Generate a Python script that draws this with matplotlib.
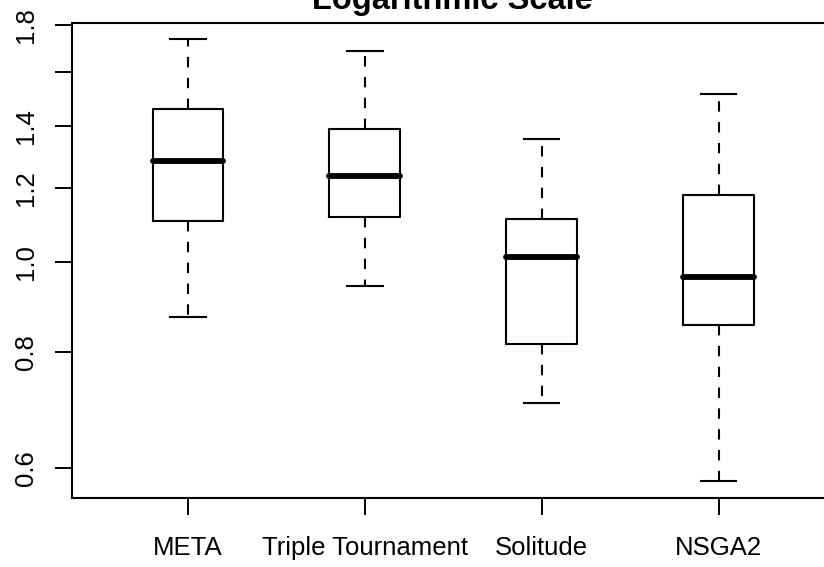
import matplotlib
matplotlib.use("Agg")
import matplotlib.pyplot as plt
from matplotlib.ticker import FixedLocator, FixedFormatter, NullLocator

categories = ["META", "Triple Tournament", "Solitude", "NSGA2"]
whisker_low = [0.873, 0.941, 0.705, 0.581]
q1 = [1.107, 1.117, 0.815, 0.856]
median = [1.284, 1.238, 1.011, 0.962]
q3 = [1.460, 1.391, 1.112, 1.181]
whisker_high = [1.739, 1.688, 1.355, 1.515]

ytick_values = [0.6, 0.8, 1.0, 1.2, 1.4, 1.6, 1.8]
ytick_labels = ["0.6", "0.8", "1.0", "1.2", "1.4", "", "1.8"]
title = "Logarithmic Scale"

plt.rcParams['font.family'] = ['Liberation Sans', 'DejaVu Sans']

W, H = 824, 567
fig = plt.figure(figsize=(W / 100, H / 100), dpi=100)
left, right, top, bottom = 72, 832, 23, 498.3
ax = fig.add_axes([left / W, (H - bottom) / H, (right - left) / W, (bottom - top) / H])

stats = []
for i, name in enumerate(categories):
    stats.append(dict(label=name, whislo=whisker_low[i], q1=q1[i], med=median[i],
                      q3=q3[i], whishi=whisker_high[i], fliers=[]))

positions = list(range(1, len(categories) + 1))
ax.bxp(stats, positions=positions, widths=0.4, showfliers=False,
       boxprops=dict(color='black', linewidth=1.5),
       medianprops=dict(color='black', linewidth=4.2, solid_capstyle='round'),
       whiskerprops=dict(color='black', linewidth=1.5, linestyle=(0, (5, 5))),
       capprops=dict(color='black', linewidth=1.5),
       capwidths=0.2)

ax.set_yscale('log')
ax.set_ylim(0.5564, 1.808)
ax.set_xlim(0.345, 4.64)
ax.yaxis.set_major_locator(FixedLocator(ytick_values))
ax.yaxis.set_major_formatter(FixedFormatter(ytick_labels))
ax.yaxis.set_minor_locator(NullLocator())
ax.set_xticks(positions)
ax.set_xticklabels(categories)

for lab in ax.get_yticklabels():
    lab.set_rotation(90)
    lab.set_va('center')

ax.tick_params(axis='both', length=12.2, width=1.4, labelsize=18.5, color='black')
ax.tick_params(axis='x', pad=15)
ax.tick_params(axis='y', pad=12)
for s in ax.spines.values():
    s.set_linewidth(1.5)
ax.spines['right'].set_visible(False)

ax.set_title(title, fontsize=23.5, fontweight='bold', pad=10)

fig.savefig("out.png", dpi=100)
